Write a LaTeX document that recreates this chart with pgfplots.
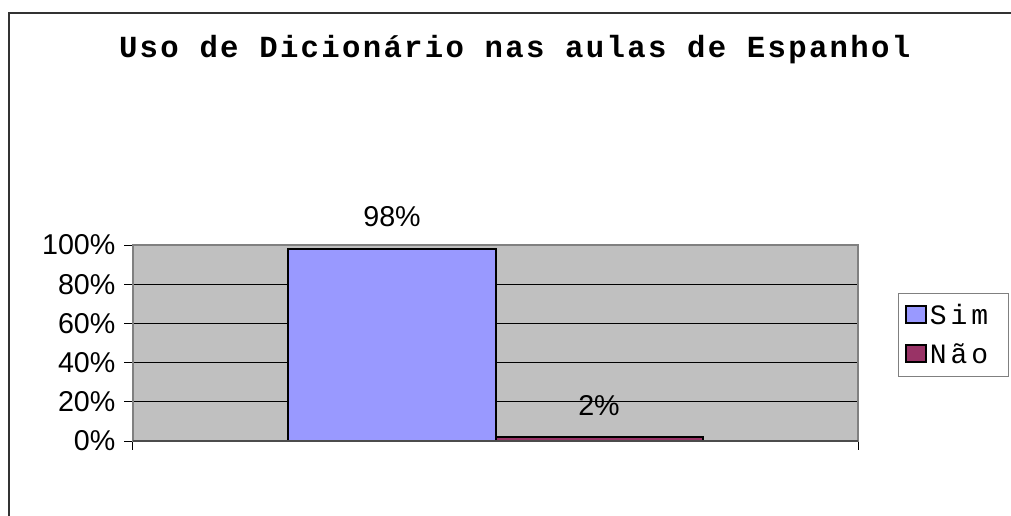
\documentclass[border=0pt]{standalone}
\usepackage{pgfplots}
\pgfplotsset{compat=1.18}
\usepackage{fontspec}
\setmainfont{Liberation Sans}
\newfontfamily\titlefont{Liberation Mono}[LetterSpace=7.5]
\newfontfamily\legfont{Liberation Mono}[LetterSpace=14]
\definecolor{simc}{HTML}{9999FF}
\definecolor{naoc}{HTML}{993366}
\definecolor{plotbg}{HTML}{C0C0C0}
\definecolor{framec}{HTML}{808080}
\definecolor{outerc}{HTML}{333333}
\begin{document}
\begin{tikzpicture}
\useasboundingbox (0,0) rectangle (758.25pt,-386.25pt);
\draw[line width=1.5pt, outerc] (6.75pt,-390pt) -- (6.75pt,-9.75pt) -- (762pt,-9.75pt);
\node[font=\titlefont\bfseries\fontsize{23}{27}\selectfont, anchor=base, inner sep=0pt] at (386pt,-42.75pt) {Uso de Dicionário nas aulas de Espanhol};
\begin{axis}[
  at={(99.75pt,-330.75pt)}, anchor=south west,
  scale only axis, width=543.75pt, height=147pt,
  xmin=-0.5, xmax=0.5, ymin=0, ymax=100,
  ybar=0pt, bar width=155.25pt,
  xtick={-0.5,0.5}, xticklabels={},
  ytick={0,20,40,60,80,100},
  yticklabel={\pgfmathprintnumber{\tick}\%},
  /pgf/number format/assume math mode=true,
  ticklabel style={font=\fontsize{21.5}{25}\selectfont},
  yticklabel style={anchor=east, inner sep=0pt, xshift=-6.5pt},
  tick align=outside, tick pos=left,
  major tick length=6.5pt,
  tick style={black, line width=0.75pt},
  axis line style={framec, line width=1.5pt},
  axis background/.style={fill=plotbg},
  ymajorgrids, major grid style={black, line width=0.75pt},
  nodes near coords={\pgfmathprintnumber{\pgfplotspointmeta}\%},
  nodes near coords style={font=\fontsize{21.5}{25}\selectfont, anchor=south, inner sep=0pt, yshift=15.5pt, /pgf/number format/assume math mode=true},
  legend style={at={(1.0552,0.755)}, anchor=north west, draw=framec, line width=0.75pt, fill=white,
    font=\legfont\fontsize{21}{25}\selectfont, inner xsep=5pt, inner ysep=6pt, row sep=9pt},
  legend cell align=left,
]
\addplot[fill=simc, draw=black, line width=1.5pt,
  legend image code/.code={\draw[fill=simc, draw=black, line width=1.5pt] (0pt,-5.5pt) rectangle (15pt,7pt);}]
  coordinates {(0,98)};
\addplot[fill=naoc, draw=black, line width=1.5pt,
  legend image code/.code={\draw[fill=naoc, draw=black, line width=1.5pt] (0pt,-5.5pt) rectangle (15pt,7pt);}]
  coordinates {(0,2)};
\legend{Sim\rule{8pt}{0pt},Não\rule{8pt}{0pt}}
\draw[black!70, line width=1.5pt] (axis cs:-0.5,0) -- (axis cs:0.5,0);
\end{axis}
\end{tikzpicture}
\end{document}
